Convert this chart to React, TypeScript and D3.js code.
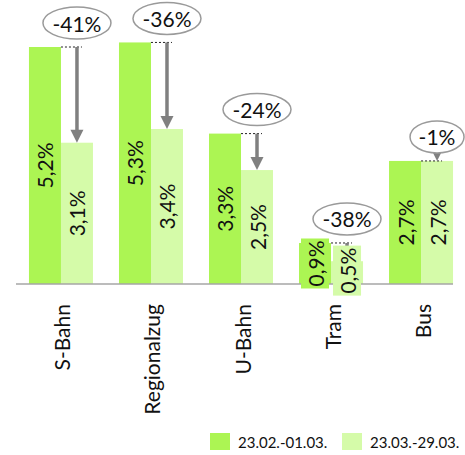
import React from "react";
import * as d3 from "d3";

const categories = ["S-Bahn", "Regionalzug", "U-Bahn", "Tram", "Bus"];
const seriesNames = ["23.02.-01.03.", "23.03.-29.03."];
const before = [5.2, 5.3, 3.3, 0.9, 2.7];
const after = [3.1, 3.4, 2.5, 0.5, 2.7];
const changeLabels = ["-41%", "-36%", "-24%", "-38%", "-1%"];
const colors = ["#acf553", "#d5fba9"];

const W = 465;
const H = 455;
const FONT = "Lato, 'Open Sans', sans-serif";

export default function App() {
  const x = d3
    .scaleBand<string>()
    .domain(categories)
    .range([16, 466])
    .paddingInner(0.289)
    .paddingOuter(0.144);
  const bw = x.bandwidth() / 2;
  const y = d3.scaleLinear().domain([0, 5.2]).range([284, 47]);
  const fmt = (v: number) => d3.format(".1f")(v).replace(".", ",") + "%";
  const series = [before, after];
  const fs = 21;

  return (
    <svg
      width={W}
      height={H}
      style={{ position: "absolute", left: 0, top: 0, background: "#fff" }}
      fontFamily={FONT}
    >
      {/* bars */}
      {categories.map((c, i) =>
        series.map((s, k) => {
          const x0 = (x(c) as number) + k * bw;
          return (
            <rect
              key={c + k}
              x={x0}
              y={y(s[i])}
              width={bw}
              height={y(0) - y(s[i])}
              fill={colors[k]}
            />
          );
        })
      )}
      {/* axis line */}
      <line x1={16} x2={453} y1={y(0)} y2={y(0)} stroke="#a6a6a6" strokeWidth={1.5} />
      {/* arrows and callouts */}
      {categories.map((c, i) => {
        const ax = (x(c) as number) + bw + bw / 2;
        const y1 = y(before[i]);
        const y2 = y(after[i]);
        const headH = 13;
        const headW = 13;
        const label = changeLabels[i];
        const rx = label.length * 7 + 6;
        const ry = 16;
        const ecy = y1 - 8 - ry;
        return (
          <g key={"a" + c}>
            <line
              x1={(x(c) as number) + bw}
              x2={ax + 5}
              y1={y1}
              y2={y1}
              stroke="#222"
              strokeWidth={1}
              strokeDasharray="2,2"
            />
            {y2 - y1 > headH && (
              <line x1={ax} x2={ax} y1={y1} y2={y2 - headH + 1} stroke="#808080" strokeWidth={3.5} />
            )}
            <path
              d={`M${ax - headW / 2},${y2 - headH}L${ax + headW / 2},${y2 - headH}L${ax},${y2}Z`}
              fill="#808080"
            />
            <ellipse
              cx={ax}
              cy={ecy}
              rx={rx}
              ry={ry}
              fill="#fff"
              stroke="#9a9a9a"
              strokeWidth={1.5}
            />
            <text
              x={ax}
              y={ecy}
              textAnchor="middle"
              dominantBaseline="central"
              fontSize={fs}
              fill="#111"
            >
              {label}
            </text>
          </g>
        );
      })}
      {/* value labels */}
      {categories.map((c, i) =>
        series.map((s, k) => {
          const cx = (x(c) as number) + k * bw + bw / 2;
          const top = y(s[i]);
          const h = y(0) - top;
          const small = h < 50;
          const cy = top + h / 2 + (small ? (k === 0 ? 0 : -2) : 0);
          return (
            <g key={"l" + c + k} transform={`translate(${cx},${cy}) rotate(-90)`}>
              {small && (
                <rect x={-25} y={-14} width={50} height={28} fill={colors[k]} />
              )}
              <text
                textAnchor="middle"
                dominantBaseline="central"
                fontSize={fs}
                fill="#111"
              >
                {fmt(s[i])}
              </text>
            </g>
          );
        })
      )}
      {/* category labels */}
      {categories.map((c) => (
        <text
          key={"c" + c}
          transform={`translate(${(x(c) as number) + bw + 1},304) rotate(-90)`}
          textAnchor="end"
          dominantBaseline="central"
          fontSize={fs}
          fill="#111"
        >
          {c}
        </text>
      ))}
      {/* legend */}
      {seriesNames.map((n, k) => (
        <g key={"lg" + n} transform={`translate(${210 + k * 132},433)`}>
          <rect width={20} height={17} fill={colors[k]} />
          <text x={28} y={9} dominantBaseline="central" fontSize={15} fill="#111">
            {n}
          </text>
        </g>
      ))}
    </svg>
  );
}
